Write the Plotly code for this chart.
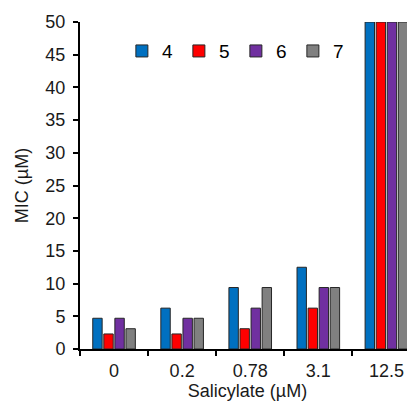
import plotly.graph_objects as go

categories = ["0", "0.2", "0.78", "3.1", "12.5"]
series_names = ["4", "5", "6", "7"]
s4 = [4.7, 6.25, 9.4, 12.5, 50]
s5 = [2.3, 2.3, 3.1, 6.25, 50]
s6 = [4.7, 4.7, 6.25, 9.4, 50]
s7 = [3.1, 4.7, 9.4, 9.4, 50]
colors = ["#0070C0", "#FF0000", "#7030A0", "#808080"]
y_ticks = list(range(0, 55, 5))

FONT = "Liberation Sans, Arial, sans-serif"

fig = go.Figure()
for name, vals, col in zip(series_names, [s4, s5, s6, s7], colors):
    fig.add_trace(go.Bar(
        x=categories, y=vals, name=name,
        marker=dict(color=col, line=dict(color="#262626", width=1)),
    ))

# page body has an 8px margin, so the figure is drawn 8px in from the top-left
fig.update_layout(
    width=407, height=393,
    margin=dict(l=72, r=0, t=14, b=52, pad=0, autoexpand=False),
    plot_bgcolor="white", paper_bgcolor="white",
    barmode="group", bargap=0.35, bargroupgap=0.15,
    font=dict(family=FONT, size=18, color="#1a1a1a"),
    showlegend=True,
    legend=dict(
        orientation="h", x=0.125, y=0.911, xanchor="left", yanchor="middle",
        font=dict(size=19, color="#000"), entrywidth=12, entrywidthmode="pixels",
        bgcolor="rgba(0,0,0,0)", traceorder="normal",
    ),
    xaxis=dict(
        type="category", range=[-0.5, 4.42], automargin=False,
        showline=True, linecolor="black", linewidth=2,
        ticks="outside", ticklen=5, tickwidth=2, tickcolor="black",
        tickson="boundaries", showgrid=False, zeroline=False,
        ticklabelstandoff=4,
        title=dict(text="Salicylate (µM)", standoff=8, font=dict(size=18)),
        tickfont=dict(size=18),
    ),
    yaxis=dict(
        range=[0, 50], tickvals=y_ticks, automargin=False,
        showline=True, linecolor="black", linewidth=2,
        ticks="outside", ticklen=5, tickwidth=2, tickcolor="black",
        showgrid=False, zeroline=False,
        ticklabelstandoff=4,
        title=dict(text="MIC (µM)", standoff=12, font=dict(size=18)),
        tickfont=dict(size=18),
    ),
)

fig.write_html("out.html")
